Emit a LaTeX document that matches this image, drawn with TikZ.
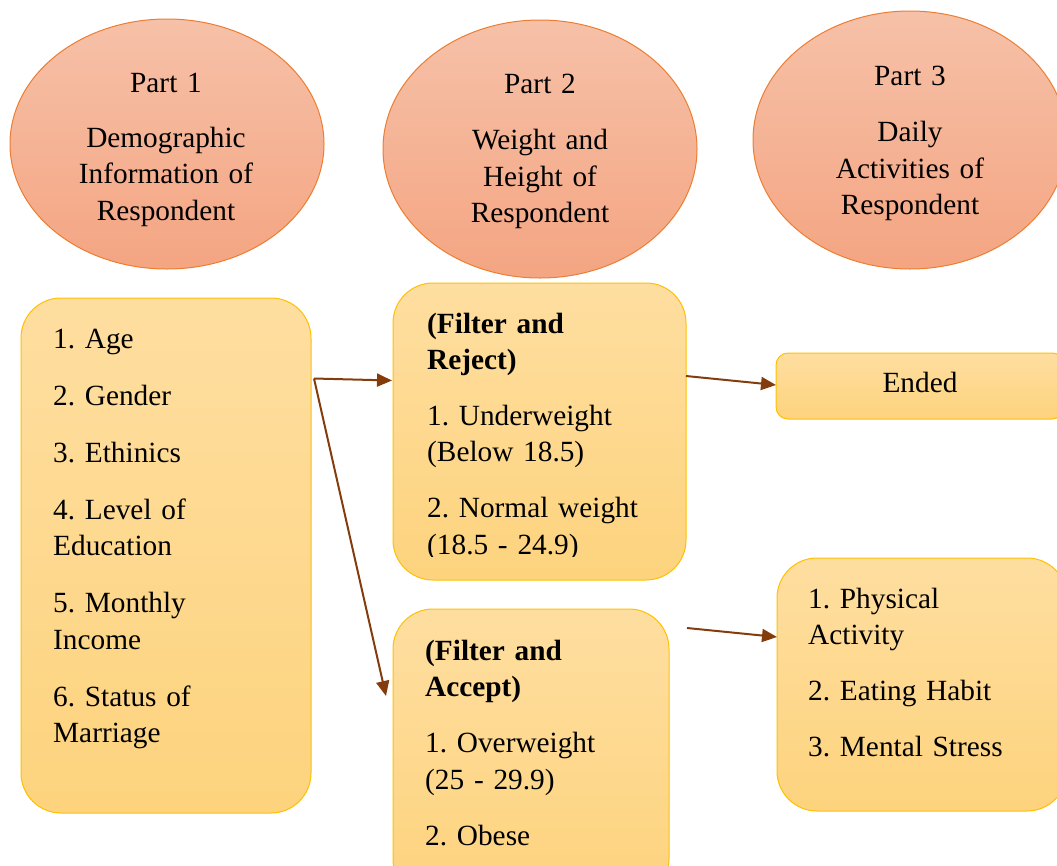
\documentclass[tikz,border=0pt]{standalone}
\usepackage{fontspec}
\setmainfont{Liberation Serif}
\usetikzlibrary{shapes.geometric,arrows.meta}
\definecolor{ellTop}{RGB}{246,193,168}
\definecolor{ellBot}{RGB}{244,165,130}
\definecolor{ellLine}{RGB}{237,125,49}
\definecolor{boxTop}{RGB}{254,222,160}
\definecolor{boxBot}{RGB}{253,211,125}
\definecolor{boxLine}{RGB}{255,192,0}
\definecolor{arr}{RGB}{132,60,12}
\tikzset{
  part/.style={ellipse, draw=ellLine, line width=1pt, top color=ellTop, bottom color=ellBot, inner sep=0pt},
  card/.style={rectangle, rounded corners=40pt, draw=boxLine, line width=1pt, top color=boxTop, bottom color=boxBot, inner sep=0pt},
  txt/.style={font=\fontsize{29.3}{36.5}\selectfont\frenchspacing, inner sep=0pt, align=left, anchor=base west, text width=#1},
  ctxt/.style={font=\fontsize{29.3}{36.5}\selectfont\frenchspacing, inner sep=0pt, align=center, anchor=base, text width=#1},
  link/.style={draw=arr, line width=2pt, -{Triangle[length=15pt,width=13pt]}}
}
\begin{document}
\begin{tikzpicture}[x=1pt,y=-1pt]
\useasboundingbox (0,0) rectangle (1057,865);
\clip (0,0) rectangle (1057,865);
% ellipses
\node[part, minimum width=314pt, minimum height=250pt] (e1) at (167,144) {};
\node[part, minimum width=314pt, minimum height=258pt] (e2) at (540,149) {};
\node[part, minimum width=314pt, minimum height=258pt] (e3) at (910,140) {};
\node[ctxt=300pt] (t1) at (166,92) {Part 1\\[18.5pt]Demographic\\Information of\\Respondent};
\node[ctxt=300pt] (t2) at (540,93) {Part 2\\[20pt]Weight and\\Height of\\Respondent};
\node[ctxt=300pt] (t3) at (910,85) {Part 3\\[20pt]Daily\\Activities of\\Respondent};
% boxes
\node[card, minimum width=290pt, minimum height=515pt] (b1) at (166,555.5) {};
\node[card, minimum width=293pt, minimum height=297pt] (b2) at (539.5,431.5) {};
\node[card, minimum width=276pt, minimum height=290pt] (b3) at (531,754) {};
\node[card, rounded corners=12pt, minimum width=288pt, minimum height=66pt] (b4) at (920,386) {};
\node[card, minimum width=290pt, minimum height=253pt] (b5) at (922,684.5) {};
% texts
\node[txt=250pt] (l1) at (53,348) {1. Age\\[20.5pt]2. Gender\\[20.5pt]3. Ethinics\\[20.5pt]4. Level of\\Education\\[20.5pt]5. Monthly\\Income\\[20.5pt]6. Status of\\Marriage};
\begin{scope}
\clip (393,283) rectangle (686,556);
\node[txt=255pt] (l2) at (427,333) {\textbf{(Filter and}\\\textbf{Reject)}\\[19pt]1. Underweight\\(Below 18.5)\\[19.5pt]2. Normal weight\\(18.5 - 24.9)};
\end{scope}
\node[txt=240pt] (l3) at (425,660) {\textbf{(Filter and}\\\textbf{Accept)}\\[19.5pt]1. Overweight\\(25 - 29.9)\\[19.5pt]2. Obese};
\node[ctxt=280pt] (l4) at (920,392) {Ended};
\node[txt=245pt] (l5) at (808,608) {1. Physical\\Activity\\[19.5pt]2. Eating Habit\\[19.5pt]3. Mental Stress};
% connectors
\coordinate (s1) at (314,378.5);
\coordinate (n1) at (392,380.5);
\coordinate (n2) at (386,696);
\coordinate (s3) at (686,376);
\coordinate (n3) at (776,385);
\coordinate (s4) at (687,628);
\coordinate (n4) at (777,637);
\draw[link] (s1) -- (n1);
\draw[link] (s1) -- (n2);
\draw[link] (s3) -- (n3);
\draw[link] (s4) -- (n4);
\end{tikzpicture}
\end{document}
